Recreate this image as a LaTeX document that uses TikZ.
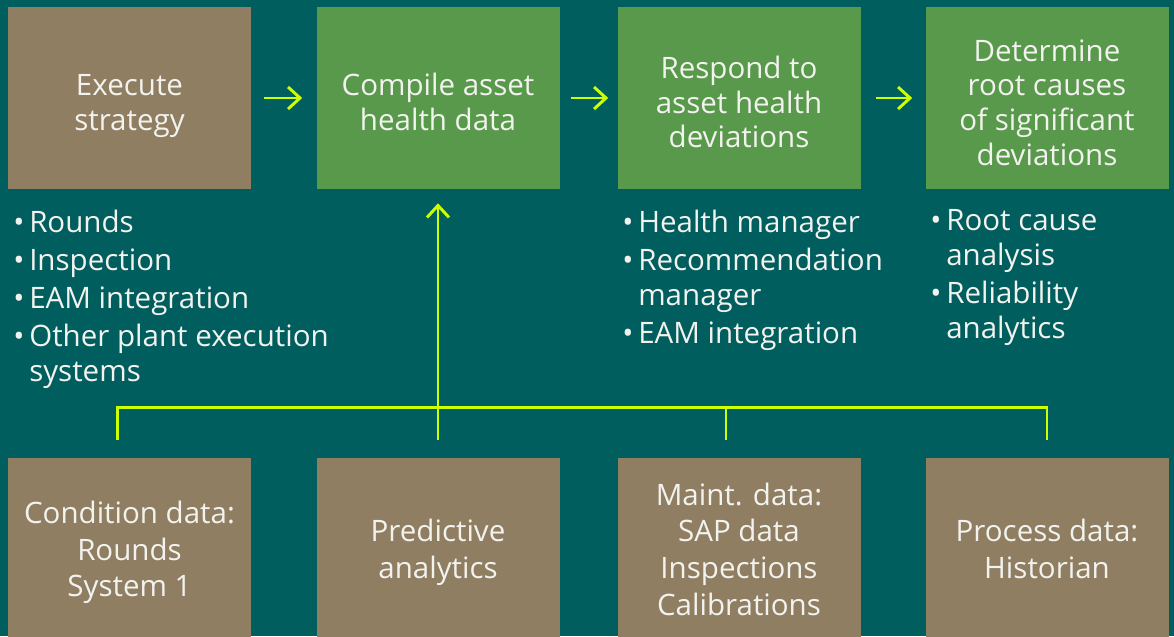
\documentclass[tikz,border=0pt]{standalone}
\usepackage{fontspec}
\setmainfont{Open Sans}
\usetikzlibrary{arrows.meta}

\definecolor{bgteal}{RGB}{0,94,94}
\definecolor{stagegreen}{RGB}{89,153,75}
\definecolor{sourcebrown}{RGB}{143,126,98}
\definecolor{limeline}{RGB}{204,255,0}
\definecolor{paper}{RGB}{242,242,238}

\newcommand{\bul}{\makebox[0.4cm][l]{•}}
\newcommand{\cont}{\hspace*{0.4cm}}
% taller first line, pushes the box text down a little
\newcommand{\capstrut}{\rule{0pt}{21.6pt}}

\tikzset{
  stage/.style={fill=stagegreen, text=paper, minimum width=6.075cm, minimum height=4.55cm,
    inner sep=0pt, align=center, font=\fontsize{21}{24.6}\selectfont, text depth=0pt},
  source/.style={stage, fill=sourcebrown, font=\fontsize{21}{26}\selectfont},
  bullets/.style={text=paper, inner sep=0pt, align=left, anchor=north west,
    font=\fontsize{21}{24.9}\selectfont},
  flow/.style={draw=limeline, line width=2.1pt, -{Straight Barb[length=0.3cm,width=0.55cm]}},
  link/.style={draw=limeline, line width=2.1pt}
}

\begin{document}
\begin{tikzpicture}
  \fill[bgteal] (0,0) rectangle (29.35,-15.9);
  \useasboundingbox (0,0) rectangle (29.35,-15.9);

  % top row
  \node[stage, fill=sourcebrown] (exec) at (3.2375,-2.45) {\capstrut Execute\\strategy};
  \node[stage] (compile) at (10.95,-2.45) {\capstrut Compile asset\\health data};
  \node[stage] (respond) at (18.475,-2.45) {\capstrut Respond to\\asset health\\deviations};
  \node[stage] (rootcause) at (26.175,-2.45) {\capstrut Determine\\root causes\\of significant\\deviations};

  % bullet lists
  \node[bullets] (execlist) at (0.325,-5.24) {\bul Rounds\\[2.1pt]
      \bul Inspection\\[2.1pt]
      \bul EAM integration\\[2.1pt]
      \bul Other plant execution\\
      \cont systems};
  \node[bullets] (respondlist) at (15.55,-5.24) {\bul Health manager\\[2.1pt]
      \bul Recommendation\\
      \cont manager\\[2.1pt]
      \bul EAM integration};
  \node[bullets] (rootlist) at (23.25,-5.24) {\bul Root cause\\
      \cont analysis\\[2.1pt]
      \bul Reliability\\
      \cont analytics};

  % data sources
  \node[source] (cond) at (3.2375,-13.725) {Condition data:\\Rounds\\System 1};
  \node[source] (pred) at (10.95,-13.725) {Predictive\\analytics};
  \node[source] (maint) at (18.475,-13.725) {Maint. data:\\SAP data\\Inspections\\Calibrations};
  \node[source] (proc) at (26.175,-13.725) {Process data:\\Historian};

  \draw[flow, shorten <=0.325cm, shorten >=0.35cm] (exec) -- (compile);
  \draw[flow, shorten <=0.275cm, shorten >=0.225cm] (compile) -- (respond);
  \draw[flow, shorten <=0.375cm, shorten >=0.325cm] (respond) -- (rootcause);

  \draw[link] ([shift={(-0.3cm,0.45cm)}]cond.north) -- ++(0,0.8) -| ([yshift=0.45cm]proc.north);
  \draw[link] ([shift={(-0.325cm,0.45cm)}]maint.north) -- ++(0,0.8);
  \draw[flow, shorten >=0.35cm] ([yshift=0.45cm]pred.north) -- (compile.south);
\end{tikzpicture}
\end{document}
